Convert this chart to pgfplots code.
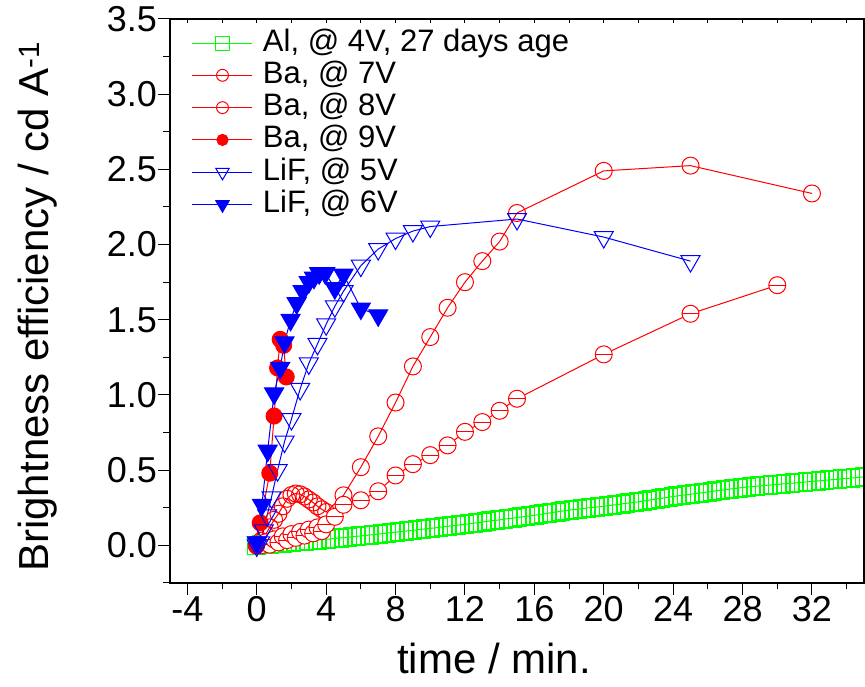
\documentclass[border=0pt]{standalone}
\usepackage{fontspec}
\setmainfont{Liberation Sans}
\usepackage{pgfplots}
\pgfplotsset{compat=1.18}
\pgfdeclareplotmark{obar}{%
  \pgfpathcircle{\pgfpointorigin}{\pgfplotmarksize}%
  \pgfusepathqfillstroke
  \pgfpathmoveto{\pgfqpoint{-\pgfplotmarksize}{0pt}}%
  \pgfpathlineto{\pgfqpoint{\pgfplotmarksize}{0pt}}%
  \pgfusepathqstroke
}
\definecolor{mygreen}{RGB}{0,255,0}
\definecolor{myred}{RGB}{255,0,0}
\definecolor{myblue}{RGB}{0,0,255}
\begin{document}
\begin{tikzpicture}
\useasboundingbox (0pt,0pt) rectangle (865pt,687pt);
\begin{axis}[
  at={(170pt,104pt)}, anchor=south west,
  scale only axis, width=694pt, height=564pt,
  xmin=-5, xmax=35, ymin=-0.25, ymax=3.5,
  xtick={-4,0,...,32}, xticklabels={-4,0,4,8,12,16,20,24,28,32},
  minor xtick={-2,2,...,34},
  ytick={0,0.5,...,3.5}, yticklabels={0.0,0.5,1.0,1.5,2.0,2.5,3.0,3.5},
  minor ytick={-0.25,0.25,...,3.25},
  xtick pos=left, ytick pos=left, tick align=outside,
  major tick length=12pt, minor tick length=6.5pt,
  every tick/.style={black, line width=1pt},
  axis line style={line width=1.2pt},
  tick label style={font=\fontsize{36}{40}\selectfont},
  yticklabel style={inner sep=1pt},
  xticklabel style={inner sep=1.5pt},
  label style={font=\fontsize{42}{48}\selectfont},
  xlabel={time / min.},
  ylabel={Brightness efficiency / cd A\textsuperscript{-1}},
  xlabel style={at={(axis description cs:0.467,-0.1596)}, anchor=base},
  ylabel style={at={(axis description cs:-0.191,0.49)}, anchor=center},
  legend style={draw=none, fill=none, inner sep=0pt, outer sep=0pt,
    at={(axis description cs:0.0317,0.984)}, anchor=north west,
    font=\fontsize{31}{36}\selectfont, row sep=2.3pt,
    nodes={inner sep=0pt, text height=23pt, text depth=7pt, anchor=west},
    /tikz/every odd column/.append style={column sep=10pt}},
  legend cell align=left,
  legend image code/.code={\draw[mark repeat=2,mark phase=2] plot coordinates {(0pt,0pt) (30pt,0pt) (60pt,0pt)};},
  legend image post style={/tikz/every mark/.append style={scale=0.7}},
]
% Al, 4V
\addlegendimage{color=mygreen, line width=1pt, mark=square, mark size=10pt, mark options={fill=white, line width=1pt}}
\addlegendentry{Al, @ 4V, 27 days age}
\addplot[forget plot, color=mygreen, line width=1pt, mark=square, mark size=9pt, mark options={line width=1pt}] coordinates {
(0,0.000) (0.25,0.003) (0.5,0.005) (0.75,0.008) (1,0.010) (1.25,0.013) (1.5,0.015) (1.75,0.018) (2,0.020)
(2.25,0.023) (2.5,0.025) (2.75,0.028) (3,0.030) (3.25,0.033) (3.5,0.035) (3.75,0.038) (4,0.040)
(4.25,0.043) (4.5,0.046) (4.75,0.049) (5,0.052) (5.25,0.054) (5.5,0.057) (5.75,0.060) (6,0.063)
(6.25,0.066) (6.5,0.069) (6.75,0.072) (7,0.075) (7.25,0.079) (7.5,0.082) (7.75,0.085) (8,0.088)
(8.25,0.091) (8.5,0.094) (8.75,0.097) (9,0.100) (9.25,0.104) (9.5,0.107) (9.75,0.110) (10,0.113)
(10.25,0.116) (10.5,0.120) (10.75,0.123) (11,0.127) (11.25,0.130) (11.5,0.133) (11.75,0.137) (12,0.140)
(12.25,0.144) (12.5,0.148) (12.75,0.151) (13,0.155) (13.25,0.159) (13.5,0.163) (13.75,0.166) (14,0.170)
(14.25,0.174) (14.5,0.178) (14.75,0.181) (15,0.185) (15.25,0.189) (15.5,0.193) (15.75,0.196) (16,0.200)
(16.25,0.204) (16.5,0.209) (16.75,0.213) (17,0.218) (17.25,0.222) (17.5,0.226) (17.75,0.231) (18,0.235)
(18.25,0.238) (18.5,0.241) (18.75,0.244) (19,0.248) (19.25,0.251) (19.5,0.254) (19.75,0.257) (20,0.260)
(20.25,0.264) (20.5,0.268) (20.75,0.271) (21,0.275) (21.25,0.279) (21.5,0.283) (21.75,0.286) (22,0.290)
(22.25,0.294) (22.5,0.299) (22.75,0.303) (23,0.308) (23.25,0.312) (23.5,0.316) (23.75,0.321) (24,0.325)
(24.25,0.329) (24.5,0.333) (24.75,0.336) (25,0.340) (25.25,0.344) (25.5,0.348) (25.75,0.351) (26,0.355)
(26.25,0.359) (26.5,0.363) (26.75,0.366) (27,0.370) (27.25,0.374) (27.5,0.378) (27.75,0.381) (28,0.385)
(28.25,0.388) (28.5,0.390) (28.75,0.393) (29,0.395) (29.25,0.398) (29.5,0.400) (29.75,0.403) (30,0.405)
(30.25,0.408) (30.5,0.410) (30.75,0.413) (31,0.415) (31.25,0.418) (31.5,0.420) (31.75,0.423) (32,0.425)
(32.25,0.428) (32.5,0.430) (32.75,0.433) (33,0.435) (33.25,0.438) (33.5,0.440) (33.75,0.443) (34,0.445)
(34.25,0.448) (34.5,0.450) (34.75,0.453) (35,0.455)
};
% Ba, 7V
\addplot[color=myred, line width=1pt, mark=o, mark size=8.5pt, mark options={fill=white, line width=1pt}] coordinates {
(0,0.0) (0.25,0.03) (0.5,0.07) (0.75,0.12) (1.0,0.17) (1.25,0.21) (1.5,0.26) (1.75,0.31) (2.0,0.335)
(2.25,0.345) (2.5,0.34) (2.75,0.325) (3.0,0.305) (3.25,0.285) (3.5,0.26) (3.75,0.24) (4.0,0.222)
(5,0.333) (6,0.52) (7,0.725) (8,0.95) (9,1.19) (10,1.385) (11,1.58) (12,1.75) (13,1.89) (14,2.02)
(15,2.21) (20,2.49) (25,2.525) (32,2.34)
};
\addlegendentry{Ba, @ 7V}
% Ba, 8V
\addplot[color=myred, line width=1pt, mark=obar, mark size=8.5pt, mark options={fill=white, line width=1pt}] coordinates {
(0,0.0) (0.25,0.0) (0.5,0.02) (0.75,0.005) (1.0,0.04) (1.25,0.02) (1.5,0.06) (1.75,0.035) (2.0,0.075)
(2.25,0.05) (2.5,0.09) (2.75,0.065) (3.0,0.105) (3.25,0.08) (3.5,0.12) (3.75,0.095) (4.0,0.14)
(4.5,0.19) (5,0.27) (6,0.30) (7,0.36) (8,0.465) (9,0.54) (10,0.60) (11,0.665) (12,0.755) (13,0.82)
(14,0.895) (15,0.975) (20,1.27) (25,1.54) (30,1.73)
};
\addlegendentry{Ba, @ 8V}
% Ba, 9V
\addplot[color=myred, line width=1pt, mark=*, mark size=8pt, mark options={fill=myred}] coordinates {
(0,0.0) (0.2,0.15) (0.75,0.48) (1.0,0.86) (1.2,1.18) (1.35,1.37) (1.55,1.33) (1.7,1.12)
};
\addlegendentry{Ba, @ 9V}
% LiF, 5V
\addplot[color=myblue, line width=1pt, mark=triangle, mark size=11pt, mark options={rotate=180, fill=white, line width=1pt}] coordinates {
(0,0.0) (0.2,0.02) (0.4,0.1) (0.6,0.2) (0.85,0.32) (1.2,0.5) (1.6,0.69) (2.0,0.84) (2.5,1.04)
(3.0,1.21) (3.5,1.34) (4.0,1.47) (4.5,1.59) (5.0,1.69) (6.0,1.86) (7.0,1.97) (8.0,2.04) (9.0,2.09)
(10.0,2.12) (15,2.17) (20,2.05) (25,1.89)
};
\addlegendentry{LiF, @ 5V}
% LiF, 6V
\addplot[color=myblue, line width=1pt, mark=triangle*, mark size=11pt, mark options={rotate=180, fill=myblue}] coordinates {
(0,0.02) (0.3,0.27) (0.63,0.63) (1.0,1.01) (1.35,1.18) (1.6,1.35) (1.95,1.5) (2.3,1.61) (2.65,1.69)
(3.0,1.75) (3.3,1.78) (3.6,1.81) (3.95,1.81) (4.5,1.71) (5.0,1.80) (6.0,1.575) (7.0,1.53)
};
\addlegendentry{LiF, @ 6V}
\end{axis}
\begin{axis}[
  at={(170pt,104pt)}, anchor=south west,
  scale only axis, width=694pt, height=564pt,
  xmin=-5, xmax=35, ymin=-0.25, ymax=3.5,
  xtick={-4,-2,...,34}, xticklabels={}, ytick=\empty,
  xtick pos=right, tick align=inside, major tick length=4pt,
  every tick/.style={black, line width=1pt},
  axis line style={line width=1.2pt},
]
\end{axis}
\end{tikzpicture}
\end{document}
